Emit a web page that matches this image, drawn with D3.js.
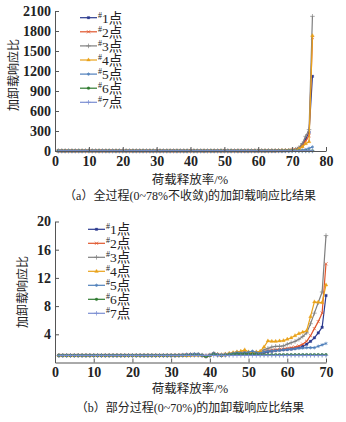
<!DOCTYPE html>
<html><head><meta charset="utf-8">
<script src="https://cdn.jsdelivr.net/npm/d3@7/dist/d3.min.js"></script>
<style>
body{margin:0;background:#fff;}
text{fill:#222;}
</style></head>
<body><svg id="c" width="346" height="422"></svg>
<script>
const rates = [1,2,3,4,5,6,7,8,9,10,11,12,13,14,15,16,17,18,19,20,21,22,23,24,25,26,27,28,29,30,
 31,32,33,34,35,36,37,38,39,40,41,42,43,44,45,46,47,48,49,50,51,52,53,54,55,56,57,58,59,60,
 61,62,63,64,65,66,67,68,69,70,71,72,73,74,75,76];
const seriesNames = ["1点","2点","3点","4点","5点","6点","7点"];
const seriesColors = ["#2b3a8f","#e0552b","#7f7f7f","#e9a21a","#4f7fba","#2f7a30","#7b8ed2"];
const s1 = [1,1,1,1,1,1,1,1,1,1,1,1,1,1,1,1,1,1,1,1,1,1,1,1,1,1,1,1,1,1,
 1.0,1.02,1.05,1.08,1.1,1.12,1.1,1.0,0.85,1.0,
 1.25,1.1,1.05,1.1,1.15,1.2,1.3,1.25,1.3,1.25,1.3,1.25,1.3,1.4,
 1.55,1.6,1.7,1.75,1.8,1.85,1.9,2.0,2.1,2.3,2.6,3.0,3.5,4.2,5.0,9.5,
 15,40,90,180,280,1120];
const s2 = [1,1,1,1,1,1,1,1,1,1,1,1,1,1,1,1,1,1,1,1,1,1,1,1,1,1,1,1,1,1,
 1.0,1.0,1.03,1.05,1.08,1.1,1.1,1.0,0.9,1.05,
 1.2,1.1,1.05,1.1,1.15,1.2,1.3,1.3,1.4,1.3,1.35,1.3,1.35,1.5,
 1.7,1.75,1.8,1.85,1.9,2.0,2.1,2.2,2.35,2.6,3.0,3.8,4.8,5.8,7.0,14.0,
 20,40,80,150,230,1700];
const s3 = [1,1,1,1,1,1,1,1,1,1,1,1,1,1,1,1,1,1,1,1,1,1,1,1,1,1,1,1,1,1,
 1.0,1.02,1.05,1.1,1.12,1.15,1.15,1.05,0.9,1.05,
 1.25,1.1,1.05,1.15,1.2,1.3,1.4,1.35,1.5,1.35,1.4,1.35,1.45,1.8,
 2.0,2.2,2.3,2.3,2.35,2.6,2.8,3.0,3.3,3.7,4.2,5.5,7.0,8.5,10.0,18.0,
 25,50,110,220,320,2020];
const s4 = [1,1,1,1,1,1,1,1,1,1,1,1,1,1,1,1,1,1,1,1,1,1,1,1,1,1,1,1,1,1,
 1.0,1.0,1.0,0.95,1.0,1.05,1.05,1.0,0.9,1.0,
 1.2,1.15,1.1,1.2,1.3,1.4,1.5,1.6,1.8,1.5,1.4,1.5,1.6,2.2,
 3.05,3.0,3.0,3.05,3.1,3.3,3.5,3.8,4.1,4.3,4.5,6.5,8.6,8.55,8.5,11.0,
 14,30,60,110,140,1730];
const s5 = [1,1,1,1,1,1,1,1,1,1,1,1,1,1,1,1,1,1,1,1,1,1,1,1,1,1,1,1,1,1,
 1.0,1.02,1.05,1.1,1.15,1.2,1.2,1.05,0.88,1.05,
 1.3,1.15,1.1,1.15,1.2,1.3,1.4,1.35,1.3,1.45,1.6,1.4,1.3,1.5,
 1.6,1.65,1.7,1.75,1.8,1.85,1.9,1.95,2.0,2.05,2.1,2.1,2.1,2.3,2.5,2.7,
 3,5,10,20,40,60];
const s6 = [1,1,1,1,1,1,1,1,1,1,1,1,1,1,1,1,1,1,1,1,1,1,1,1,1,1,1,1,1,1,
 1.0,1.0,1.02,1.03,1.05,1.05,1.05,1.0,0.85,1.0,
 1.15,1.05,1.0,1.05,1.1,1.15,1.2,1.15,1.2,1.15,1.2,1.15,1.1,1.1,
 1.1,1.1,1.1,1.1,1.1,1.1,1.1,1.1,1.1,1.1,1.1,1.1,1.1,1.1,1.1,1.1,
 1.1,1.1,1.1,1.1,1.1,1.1];
const s7 = [1,1,1,1,1,1,1,1,1,1,1,1,1,1,1,1,1,1,1,1,1,1,1,1,1,1,1,1,1,1,
 1,1,1,1,1,1,1,1,1,1,1,1,1,1,1,1,1,1,1,1,1,1,1,1,1,1,1,1,1,1,
 1,1,1,1,1,1,1,1,1,1,1,1,1,1,1,1];
const topYTicks = [0,300,600,900,1200,1500,1800,2100];
const topXTicks = [0,10,20,30,40,50,60,70,80];
const botYTicks = [4,8,12,16,20];
const botXTicks = [0,10,20,30,40,50,60,70];
const yLabel = "加卸载响应比";
const xLabel = "荷载释放率/%";
const captionA = "（a）全过程(0~78%不收敛)的加卸载响应比结果";
const captionB = "（b）部分过程(0~70%)的加卸载响应比结果";

const SERIF = '"Liberation Serif","DejaVu Serif",serif';
const CJK = '"Liberation Serif","Noto Sans CJK SC",serif';
const allSeries = [s1,s2,s3,s4,s5,s6,s7];
const symbolTypes = [
  {t:d3.symbolSquare, fill:true},
  {t:d3.symbolTimes, fill:false},
  {t:d3.symbolPlus, fill:false},
  {t:d3.symbolTriangle, fill:true},
  {t:d3.symbolAsterisk, fill:false},
  {t:d3.symbolCircle, fill:true},
  {t:d3.symbolPlus, fill:false}
];
const svg = d3.select("#c");
svg.append("rect").attr("width",346).attr("height",422).attr("fill","#fff");

function drawPanel(cfg){
  const g = svg.append("g");
  const x = d3.scaleLinear().domain(cfg.xDomain).range([55,326]);
  const y = d3.scaleLinear().domain(cfg.yDomain).range(cfg.yRange);
  const data = allSeries.map(s => rates.map((r,i)=>({x:r,y:s[i]})).filter(d=>d.x<=cfg.xMax));
  const line = d3.line().x(d=>x(d.x)).y(d=>y(d.y));
  data.forEach((d,k)=>{
    g.append("path").datum(d).attr("d",line).attr("fill","none")
      .attr("stroke",seriesColors[k]).attr("stroke-width",1.2);
    const st = symbolTypes[k];
    g.selectAll(null).data(d).enter().append("path")
      .attr("transform",p=>`translate(${x(p.x)},${y(p.y)})`)
      .attr("d",d3.symbol().type(st.t).size(st.fill?6:8))
      .attr("fill",st.fill?seriesColors[k]:"none")
      .attr("stroke",seriesColors[k]).attr("stroke-width",st.fill?0.3:0.7);
  });
  const ax = g.append("g").attr("transform",`translate(0,${cfg.yRange[0]})`)
    .call(d3.axisBottom(x).tickValues(cfg.xTicks).tickFormat(d3.format("d"))
      .tickSizeInner(-4).tickSizeOuter(0).tickPadding(5));
  const ay = g.append("g").attr("transform",`translate(55,0)`)
    .call(d3.axisLeft(y).tickValues(cfg.yTicks).tickFormat(d3.format("d"))
      .tickSizeInner(-4).tickSizeOuter(0).tickPadding(4));
  [ax,ay].forEach(a=>{
    a.selectAll("path,line").attr("stroke","#555").attr("stroke-width",1);
    a.selectAll("text").attr("font-size",14).attr("fill","#222")
      .style("font-family",SERIF).style("font-weight","bold");
  });
  // legend
  seriesNames.forEach((n,k)=>{
    const ly = cfg.legY + k*cfg.legStep;
    g.append("line").attr("x1",cfg.legX).attr("x2",cfg.legX+17).attr("y1",ly).attr("y2",ly)
      .attr("stroke",seriesColors[k]).attr("stroke-width",1.2);
    const st = symbolTypes[k];
    g.append("path").attr("transform",`translate(${cfg.legX+8.5},${ly})`)
      .attr("d",d3.symbol().type(st.t).size(st.fill?6:8))
      .attr("fill",st.fill?seriesColors[k]:"none")
      .attr("stroke",seriesColors[k]).attr("stroke-width",st.fill?0.3:0.7);
    const t = g.append("text").attr("x",cfg.legX+18).attr("y",ly+5).attr("font-size",13.5)
      .style("font-family",CJK);
    t.append("tspan").text("#").attr("font-size",8).attr("dy",-5);
    t.append("tspan").text(n).attr("dy",5);
  });
  g.append("text").attr("transform",`translate(${cfg.yLabX},${cfg.yLabY}) rotate(-90)`)
    .attr("text-anchor","middle").attr("dominant-baseline","central")
    .attr("font-size",12).style("font-family",CJK).text(yLabel);
  g.append("text").attr("x",190).attr("y",cfg.xLabY).attr("text-anchor","middle")
    .attr("dominant-baseline","central").attr("font-size",12.5).style("font-family",CJK).text(xLabel);
  g.append("text").attr("x",190).attr("y",cfg.capY).attr("text-anchor","middle")
    .attr("dominant-baseline","central").attr("font-size",12).style("font-family",CJK).text(cfg.caption);
}

drawPanel({xDomain:[0,80], yDomain:[0,2100], yRange:[151,11], xMax:76,
  xTicks:topXTicks, yTicks:topYTicks, legX:80, legY:17.7, legStep:14.1,
  yLabX:14, yLabY:75, xLabY:180, capY:196, caption:captionA});
drawPanel({xDomain:[0,70], yDomain:[0,20], yRange:[362.5,221.5], xMax:70,
  xTicks:botXTicks, yTicks:botYTicks, legX:88, legY:229.3, legStep:14,
  yLabX:23, yLabY:292, xLabY:389, capY:408, caption:captionB});
</script></body></html>
